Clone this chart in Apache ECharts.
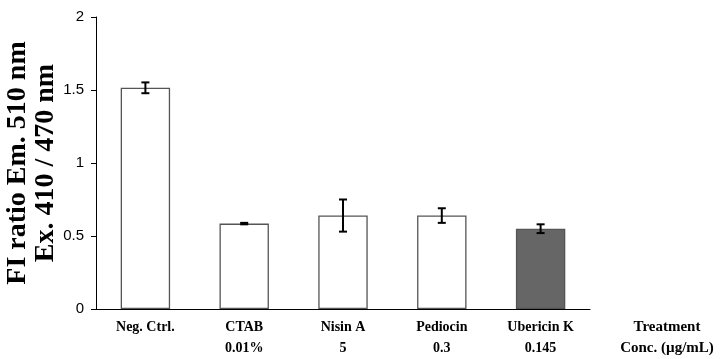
<!DOCTYPE html>
<html><head><meta charset="utf-8">
<script src="https://cdn.jsdelivr.net/npm/echarts@6/dist/echarts.min.js"></script>
<style>html,body{margin:0;padding:0;background:#fff}#c{width:727px;height:359px}</style>
</head><body><div id="c"></div>
<script>
const categories = ['Neg. Ctrl.\n ', 'CTAB\n0.01%', 'Nisin A\n5', 'Pediocin\n0.3', 'Ubericin K\n0.145'];
const values = [1.515, 0.585, 0.64, 0.64, 0.55];
const errors = [0.037, 0.005, 0.11, 0.05, 0.03];
const barColors = ['#ffffff', '#ffffff', '#ffffff', '#ffffff', '#666666'];
const yTicks = { min: 0, max: 2, interval: 0.5 };

const chart = echarts.init(document.getElementById('c'), null, { renderer: 'canvas' });
chart.setOption({
  animation: false,
  grid: { left: 96, right: 137, top: 17, bottom: 50, containLabel: false, outerBoundsMode: 'none' },
  xAxis: {
    type: 'category',
    data: categories,
    axisLine: { lineStyle: { color: '#000', width: 1 } },
    axisTick: { alignWithLabel: false, length: 5, lineStyle: { color: '#000' } },
    axisLabel: { interval: 0, margin: 8, fontFamily: 'Liberation Serif', fontWeight: 'bold', fontSize: 14, lineHeight: 21, color: '#000' },
    name: 'Treatment\nConc. (\u00b5g/mL)',
    nameLocation: 'end',
    nameGap: 77,
    nameMoveOverlap: false,
    nameTextStyle: { fontFamily: 'Liberation Serif', fontWeight: 'bold', fontSize: 15, lineHeight: 21, color: '#000', align: 'center', verticalAlign: 'top', padding: [8, 0, 0, 0] }
  },
  yAxis: {
    type: 'value',
    min: yTicks.min, max: yTicks.max, interval: yTicks.interval,
    splitLine: { show: false },
    axisLine: { show: true, lineStyle: { color: '#000', width: 1 } },
    axisTick: { show: true, length: 5, lineStyle: { color: '#000' } },
    axisLabel: { margin: 12, fontFamily: 'Liberation Sans', fontSize: 15, color: '#000' },
    name: 'FI ratio Em. 510 nm\nEx. 410 / 470 nm',
    nameLocation: 'middle',
    nameGap: 36,
    nameMoveOverlap: false,
    nameTextStyle: { fontFamily: 'Liberation Serif', fontWeight: 'bold', fontSize: 28, lineHeight: 28, color: '#000' }
  },
  series: [
    {
      type: 'bar',
      data: values.map((v, i) => ({ value: v, itemStyle: { color: barColors[i] } })),
      barCategoryGap: '50%',
      itemStyle: { borderColor: '#555', borderWidth: 1.3 }
    },
    {
      type: 'custom',
      data: values.map((v, i) => [i, v - errors[i], v + errors[i]]),
      renderItem: function (params, api) {
        const x = api.value(0);
        const lo = api.coord([x, api.value(1)]);
        const hi = api.coord([x, api.value(2)]);
        const w = 4;
        const st = { stroke: '#000', lineWidth: 2 };
        return {
          type: 'group',
          children: [
            { type: 'line', shape: { x1: lo[0], y1: lo[1], x2: hi[0], y2: hi[1] }, style: st },
            { type: 'line', shape: { x1: lo[0] - w, y1: lo[1], x2: lo[0] + w, y2: lo[1] }, style: st },
            { type: 'line', shape: { x1: hi[0] - w, y1: hi[1], x2: hi[0] + w, y2: hi[1] }, style: st }
          ]
        };
      },
      z: 10
    }
  ]
});
</script></body></html>
